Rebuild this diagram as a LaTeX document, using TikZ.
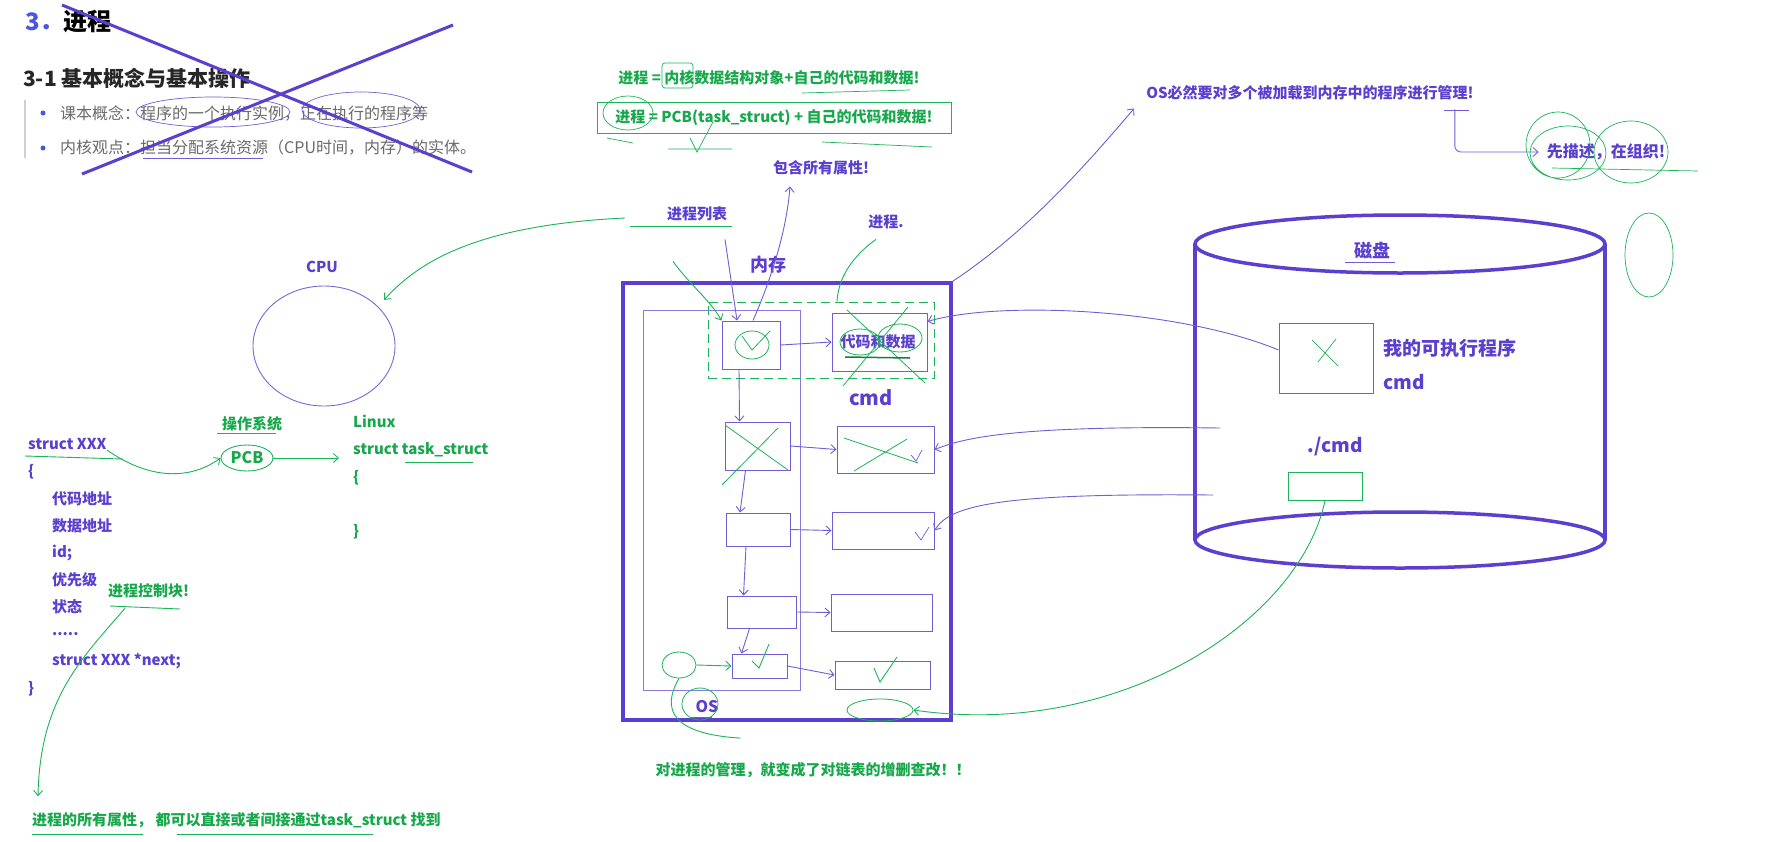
\documentclass[tikz,border=0pt]{standalone}
\usepackage{fontspec}
\setmainfont{Noto Sans CJK SC}
\usetikzlibrary{arrows.meta,positioning,shapes.geometric}
\definecolor{inkpurple}{HTML}{5B3FCF}
\definecolor{inkgreen}{HTML}{1CB458}
\definecolor{textgreen}{HTML}{17A84C}
\definecolor{titleblue}{HTML}{4A55E0}
\definecolor{bodygray}{HTML}{6A6A6A}
\definecolor{bargray}{HTML}{D0D0D0}
\newcommand{\sz}[1]{\fontsize{#1}{#1}\selectfont}

\begin{document}
\begin{tikzpicture}[x=1pt,y=-1pt,inner sep=0pt,
  ptxt/.style={text=inkpurple,font=\bfseries\sz{15}},
  gtxt/.style={text=textgreen,font=\bfseries\sz{15}},
  box/.style={draw=inkpurple!85,line width=1pt},
  link/.style={draw=inkpurple!85,line width=0.9pt,-{Straight Barb[length=5pt,width=9pt]}},
  glink/.style={draw=inkgreen,line width=0.9pt,-{Straight Barb[length=5pt,width=9pt]}},
  pline/.style={draw=inkpurple!85,line width=0.9pt},
  gline/.style={draw=inkgreen,line width=0.9pt},
  heavy/.style={draw=inkpurple,line width=3.5pt}]
\fill[white] (0,0) rectangle (1783,841);
\useasboundingbox (0,0) rectangle (1783,841);

% crossed-out heading
\node[anchor=west,font=\bfseries\sz{24}] (title) at (25,22) {\textcolor{titleblue}{3．}进程};
\node[anchor=west,font=\bfseries\sz{21},text=black!85] (sub) at (23,78) {3-1 基本概念与基本操作};
\draw[bargray,line width=1.5pt] (25,100) -- (25,158);
\foreach \i/\txt in {0/{课本概念：程序的一个执行实例，正在执行的程序等},1/{内核观点：担当分配系统资源（CPU时间，内存）的实体。}}{
  \fill[titleblue] (43,113+\i*35) circle (2.5);
  \node[anchor=west,text=bodygray,font=\sz{16}] (bul\i) at (60,113+\i*35) {\txt};
}
\draw[pline,line width=0.7pt] (213,112) ellipse [x radius=77,y radius=15];
\draw[pline,line width=0.7pt] (361,110) ellipse [x radius=59,y radius=18];
\draw[pline,line width=0.7pt] (143,158) -- (263,158);
\draw[heavy,line width=3pt] (62,5) -- (472,172) (82,174) -- (453,25);

% formulas
\node[gtxt] (eq1) at (769,78) {进程 = 内核数据结构对象+自己的代码和数据!};
\node[gtxt,draw=inkgreen,line width=0.8pt,minimum width=354,minimum height=31] (eq2) at (774,118) {进程 = PCB(task\_struct) + 自己的代码和数据!};
\draw[gline,line width=0.7pt] (628,113) ellipse [x radius=25,y radius=17];
\draw[gline,line width=0.7pt,rounded corners=3pt] (662,63) rectangle (693,88);
\draw[gline,line width=0.7pt] (802,93) -- (910,90) (668,149) -- (732,149) (822,142) -- (932,147) (607,138) -- (633,143);
\draw[gline,line width=0.7pt] (713,122) -- (697,152) -- (690,138);

\node[ptxt] (incl) at (821,168) {包含所有属性!};
\node[ptxt] (plist) at (697,214) {进程列表};
\node[ptxt] (proc) at (886,222) {进程.};
\draw[gline] (630,226) -- (732,226);

% cpu
\node[ptxt] (cpulbl) at (322,267) {CPU};
\node[ellipse,draw=inkpurple!80,line width=0.9pt,minimum width=142,minimum height=120] (cpu) at (324,346) {};
\draw[glink] ([xshift=-42pt,yshift=-4pt]plist.west) .. controls (480,225) and (420,260) .. ([xshift=14pt]cpu.45);

% memory
\node[draw=inkpurple,line width=3.5pt,minimum width=328,minimum height=437] (mem) at (787,501.5) {};
\node[ptxt,font=\bfseries\sz{18}] (memlbl) at (768,265) {内存};
\node[draw=inkpurple!70,line width=1pt,minimum width=157,minimum height=380] (osarea) at (721.5,500) {};
\node[draw=inkgreen,line width=0.9pt,dash pattern=on 9pt off 5pt,minimum width=226,minimum height=76] (dash) at (821,340) {};
\foreach \n/\x/\y/\w/\h in {l1/751/345/58/48, l2/757.5/446/65/48, l3/758/529.5/64/33,
  l4/761.5/612/69/32, l5/759.5/666/55/24, r1/879.5/342/95/58, r2/885.5/449.5/97/47,
  r3/883/530.5/102/37, r4/881.5/612.5/101/37, r5/882.5/675/95/28}
  \node[box,minimum width=\w,minimum height=\h] (\n) at (\x,\y) {};
\node[ptxt] (codedata) at (878,342) {代码和数据};
\foreach \a/\b in {l1/l2,l2/l3,l3/l4,l4/l5}
  \draw[link] ([xshift=-12pt]\a.south) -- ([xshift=-18pt]\b.north);
\foreach \a/\b in {l1/r1,l2/r2,l3/r3,l4/r4,l5/r5}
  \draw[link] (\a.east) -- (\b.west);
\node[ptxt,font=\bfseries\sz{20}] (cmdmem) at (871,398) {cmd};
\node[ptxt,font=\bfseries\sz{16}] (oslbl) at (707,707) {OS};
\draw[pline] (690,717) -- (712,717);

% marks in memory
\draw[gline,line width=0.8pt] (752,345) ellipse [x radius=17,y radius=14];
\draw[gline,line width=0.8pt] (742,336) -- (752,350) -- (770,331);
\draw[gline,line width=0.8pt] (725,425) -- (788,470) (778,428) -- (722,485);
\draw[gline,line width=0.8pt] (844,438) -- (918,463) (854,471) -- (907,439);
\draw[gline,line width=0.8pt] (847,310) -- (925,383) (908,307) -- (843,386);
\draw[gline,line width=0.8pt] (860,342) ellipse [x radius=20,y radius=13] (900,338) ellipse [x radius=22,y radius=14];
\draw[inkgreen!70!black,line width=1.5pt] (845,357) -- (910,358);
\draw[gline] (752,661) -- (759,668) -- (769,644);
\draw[gline] (874,668) -- (880,682) -- (897,657);
\draw[pline,line width=0.7pt] (911,455) -- (916,461) -- (922,450);
\draw[pline,line width=0.7pt] (915,532) -- (921,540) -- (929,527);
\draw[gline,line width=0.8pt] (700,704) ellipse [x radius=18,y radius=16];
\node[ellipse,draw=inkgreen,line width=0.8pt,minimum width=34,minimum height=26] (oshead) at (679,665) {};
\draw[glink] (oshead.east) -- (l5.west);

\draw[glink] ([xshift=-24pt,yshift=-40pt]plist.south) .. controls (690,285) and (710,300) .. (l1.north west);
\draw[link] ([xshift=28pt,yshift=-18pt]plist.south) -- ([xshift=-14pt]l1.north);
\draw[link] ([xshift=2pt]l1.north) .. controls (775,270) and (787,225) .. ([xshift=-31pt,yshift=-11pt]incl.south);
\draw[gline] ([xshift=-10pt,yshift=-10pt]proc.south) .. controls (845,262) and (838,285) .. ([xshift=16pt]dash.north);

% management notes
\node[ptxt] (osmust) at (1310,93) {OS必然要对多个被加载到内存中的程序进行管理!};
\draw[link] (mem.north east) .. controls (1030,230) and (1090,160) .. ([xshift=-12pt,yshift=-8pt]osmust.south west);
\node[ptxt,font=\bfseries\sz{16}] (descr) at (1606,152) {先描述，在组织!};
\draw[pline] (1444,110) -- (1469,110);
\draw[link,rounded corners=6pt,shorten >=8pt] ([xshift=-19pt,yshift=-9pt]osmust.south east) |- (descr.west);
\draw[gline,line width=0.7pt] (1558,145) ellipse [x radius=32,y radius=33] (1568,153) ellipse [x radius=38,y radius=27]
  (1631,152) ellipse [x radius=37,y radius=31] (1649,255) ellipse [x radius=24,y radius=42];
\draw[gline,line width=0.7pt] (1552,168) -- (1698,171);

% disk
\draw[heavy] (1195,244) -- (1195,540) (1605,244) -- (1605,540);
\draw[heavy] (1400,244) ellipse [x radius=205,y radius=29];
\draw[heavy] (1400,540) ellipse [x radius=205,y radius=28];
\node[ptxt,font=\bfseries\sz{18}] (disklbl) at (1372,250) {磁盘};
\draw[pline] (1345,262) -- (1395,262);
\node[box,minimum width=94,minimum height=70] (exe) at (1326,358) {};
\draw[gline,line width=0.7pt] (1312,340) -- (1338,366) (1336,339) -- (1318,362);
\node[ptxt,font=\bfseries\sz{19},anchor=west] (exelbl) at (1383,348) {我的可执行程序};
\node[ptxt,font=\bfseries\sz{19},anchor=west] (exename) at (1383,382) {cmd};
\node[ptxt,font=\bfseries\sz{19}] (runlbl) at (1335,447) {./cmd};
\node[draw=inkgreen,line width=1pt,minimum width=74,minimum height=28] (cmdbox) at (1325,486) {};
\coordinate (dk1) at (1220,428);
\coordinate (dk2) at (1213,495);
\draw[link] ([yshift=8pt]exe.west) .. controls (1180,309) and (1000,300) .. ([yshift=-9pt]r1.north east);
\draw[link] (dk1) .. controls (1000,425) and (960,440) .. (r2.east);
\draw[link] (dk2) .. controls (1000,493) and (950,505) .. (r3.east);
\node[ellipse,draw=inkgreen,line width=0.8pt,minimum width=66,minimum height=22] (memnote) at (880,710) {};
\draw[glink] (cmdbox.south) .. controls (1300,620) and (1120,740) .. (memnote.east);

% struct on the left
\node[ptxt,anchor=west] (sx) at (28,444) {struct XXX};
\node[ptxt,anchor=west] (sxopen) at (28,472) {\{};
\foreach \i/\txt in {0/代码地址,1/数据地址,2/{id;},3/优先级,4/状态,6/{struct XXX *next;}}
  \node[ptxt,anchor=west] (fld\i) at (52,499+\i*27) {\txt};
\node[ptxt,anchor=west] (fld5) at (52,634) {.....};
\node[ptxt,anchor=west] (sxclose) at (28,689) {\}};
\draw[gline] (25,456) -- (123,459);
\node[gtxt,anchor=west] (pcbnote) at (108,591) {进程控制块!};
\draw[gline] (110,606) -- (180,609);
\node[gtxt] (ostag) at (252,424) {操作系统};
\draw[gline] (217,433) -- (276,433);
\node[ellipse,draw=inkgreen,line width=0.9pt,gtxt,font=\bfseries\sz{16},minimum width=52,minimum height=26] (pcb) at (247,458) {PCB};
\draw[glink] (sx.south east) .. controls (150,480) and (190,480) .. (pcb.west);
\node[gtxt,anchor=west] (linux) at (353,421) {Linux};
\node[gtxt,anchor=west] (ts) at (353,450) {struct task\_struct};
\node[gtxt,anchor=west] (tsopen) at (353,478) {\{};
\node[gtxt,anchor=west] (tsclose) at (353,532) {\}};
\draw[glink] (pcb.east) -- ([xshift=-14pt,yshift=-8pt]ts.west);
\draw[gline,line width=0.7pt] (405,462) -- (473,462);

% bottom notes
\node[gtxt,anchor=west] (allattr) at (32,820) {进程的所有属性， 都可以直接或者间接通过task\_struct 找到};
\draw[gline] (32,834) -- (143,834) (177,834) -- (373,834);
\draw[glink] ([xshift=17pt,yshift=-10pt]pcbnote.south west) .. controls (80,660) and (40,700) .. ([xshift=6pt,yshift=16pt]allattr.north west);
\node[gtxt] (botmsg) at (813,770) {对进程的管理，就变成了对链表的增删查改！！};
\draw[gline] (oshead.south) .. controls (655,720) and (690,735) .. ([xshift=85pt,yshift=24pt]botmsg.north west);
\end{tikzpicture}
\end{document}
